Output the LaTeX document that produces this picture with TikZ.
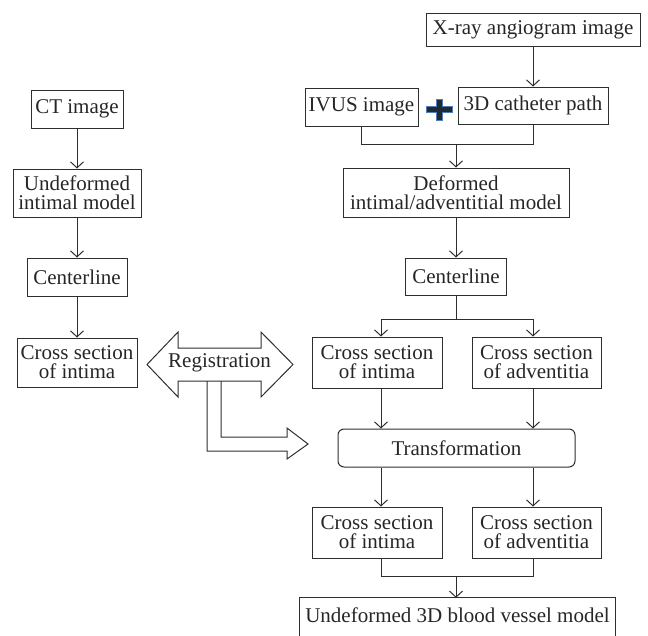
\documentclass[tikz,border=0pt]{standalone}
\usepackage{fontspec}
\setmainfont{Liberation Serif}
\usetikzlibrary{arrows.meta,calc}
\definecolor{linec}{HTML}{2E2E2E}
\definecolor{textc}{HTML}{262626}
\definecolor{plusfill}{HTML}{1E2A38}
\definecolor{plusedge}{HTML}{4F7FB5}
\begin{document}
\begin{tikzpicture}[x=1pt,y=-1pt,
  box/.style={draw=linec,line width=1pt,inner sep=0pt,align=center,text=textc,font=\fontsize{21}{19}\selectfont},
  txt/.style={inner sep=0pt,align=center,text=textc,font=\fontsize{21}{19}\selectfont},
  conn/.style={draw=linec,line width=1pt},
  arr/.style={conn,-{Straight Barb[length=6pt,width=13pt,line width=1pt]}},
  bigarrow/.style={draw=linec,line width=1pt,line join=miter},
  plussign/.style={fill=plusfill,draw=plusedge,line width=0.7pt}]
\useasboundingbox (0,0) rectangle (648,635);
% left column
\node[box,minimum width=92pt,minimum height=38pt] (ct) at (77,109) {CT image};
\node[box,minimum width=128pt,minimum height=48pt] (und) at (77,193) {Undeformed\\intimal model};
\node[box,minimum width=100pt,minimum height=38pt] (cl1) at (77,277) {Centerline};
\node[box,minimum width=120pt,minimum height=49pt] (cs1) at (77,362.5) {Cross section\\of intima};
% right column
\node[box,minimum width=214pt,minimum height=33pt] (xray) at (533,29.5) {X-ray angiogram image};
\node[box,minimum width=113pt,minimum height=38pt] (ivus) at (361.5,107) {IVUS image};
\node[box,minimum width=150pt,minimum height=37pt] (cath) at (533,105.5) {3D catheter path};
\node[box,minimum width=226pt,minimum height=49pt] (def) at (456,192.5) {Deformed\\intimal/adventitial model};
\node[box,minimum width=101pt,minimum height=37pt] (cl2) at (456,276.5) {Centerline};
\node[box,minimum width=130pt,minimum height=51pt] (csi2) at (377,362.5) {Cross section\\of intima};
\node[box,minimum width=129pt,minimum height=51pt] (csa2) at (536.5,362.5) {Cross section\\of adventitia};
\node[box,rounded corners=6pt,minimum width=237pt,minimum height=38pt] (trans) at (456.5,448) {Transformation};
\node[box,minimum width=130pt,minimum height=51pt] (csi3) at (377,532.5) {Cross section\\of intima};
\node[box,minimum width=129pt,minimum height=51pt] (csa3) at (536.5,532.5) {Cross section\\of adventitia};
\node[txt,minimum width=315pt,minimum height=34pt] (out) at (457.5,615) {Undeformed 3D blood vessel model};
\draw[conn] ($(out.south west)+(0,12)$) -- (out.north west) -- (out.north east) -- ($(out.south east)+(0,12)$);
% plus sign
\draw[plussign] (436,99) -- (442,99) -- (442,106) -- (452,106) -- (452,112) -- (442,112) -- (442,120) -- (436,120) -- (436,112) -- (426,112) -- (426,106) -- (436,106) -- cycle;
% column coordinates
\coordinate (colL) at (381,0);
\coordinate (colR) at (533,0);
\coordinate (m1) at (456,144);
\coordinate (s1) at (456,319);
\coordinate (m2) at (456,576);
% left connectors
\draw[arr] (ct) -- (und);
\draw[arr] (und) -- (cl1);
\draw[arr] (cl1) -- (cs1);
% right connectors
\draw[arr] (xray) -- (cath);
\draw[conn] (ivus.south) -- (ivus.south |- m1) -- (cath.south |- m1) -- (cath.south);
\draw[arr] (m1) -- (m1 |- def.north);
\draw[arr] (def) -- (cl2);
\draw[conn] (cl2.south) -- (s1);
\draw[arr] (s1) -| (colL |- csi2.north);
\draw[arr] (s1) -| (colR |- csa2.north);
\draw[arr] (colL |- csi2.south) -- (colL |- trans.north);
\draw[arr] (colR |- csa2.south) -- (colR |- trans.north);
\draw[arr] (colL |- trans.south) -- (colL |- csi3.north);
\draw[arr] (colR |- trans.south) -- (colR |- csa3.north);
\draw[conn] (colL |- csi3.south) -- (colL |- m2) -- (colR |- m2) -- (colR |- csa3.south);
\draw[arr] (m2) -- (m2 |- out.north);
% registration arrows
\draw[bigarrow] (147,364.5) -- (178,332) -- (178,348) -- (261,348) -- (261,332) -- (293,364.5) -- (261,397) -- (261,381) -- (178,381) -- (178,397) -- cycle;
\draw[bigarrow] (207,381) -- (207,451) -- (287,451) -- (287,459) -- (308,444) -- (287,428) -- (287,437) -- (221,437) -- (221,381);
\node[txt] (reg) at (219.5,363) {Registration};
\end{tikzpicture}
\end{document}
